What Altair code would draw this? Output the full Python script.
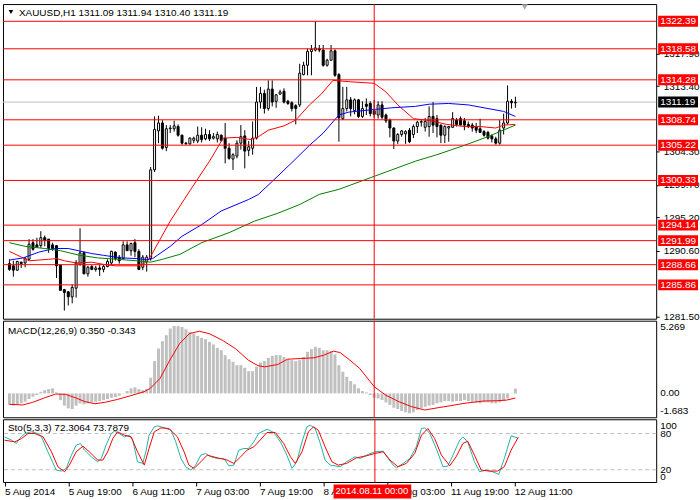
import json
import altair as alt
import pandas as pd

FONT = "Liberation Sans, Arial, sans-serif"
FS = 10

# ---------------- data ----------------
TITLE = "XAUUSD,H1  1311.09 1311.94 1310.40 1311.19"
MACD_TITLE = "MACD(12,26,9) 0.350 -0.343"
STO_TITLE = "Sto(5,3,3) 72.3064 73.7879"

OPEN = [1288.8, 1288.5, 1287.9, 1289.0, 1288.9, 1289.4, 1291.7, 1291.4, 1291.3, 1292.4,
        1292.2, 1291.4, 1291.3, 1288.6, 1285.2, 1284.9, 1284.2, 1285.4, 1288.7, 1290.3,
        1287.4, 1288.4, 1288.0, 1288.2, 1288.0, 1288.4, 1288.9, 1290.4, 1289.7, 1289.5,
        1291.4, 1290.6, 1291.7, 1290.5, 1288.3, 1289.1, 1289.5, 1301.8, 1307.2, 1308.3,
        1304.9, 1307.5, 1307.5, 1307.8, 1306.6, 1305.5, 1305.4, 1305.9, 1305.8, 1306.6,
        1306.1, 1306.7, 1306.2, 1306.1, 1306.6, 1306.2, 1304.8, 1303.3, 1303.7, 1305.5,
        1306.5, 1304.5, 1304.8, 1306.2, 1311.2, 1312.4, 1310.3, 1313.0, 1311.3, 1312.3,
        1312.7, 1311.3, 1311.1, 1310.7, 1310.8, 1315.0, 1316.3, 1318.2, 1318.4, 1318.6,
        1318.4, 1316.3, 1317.0, 1318.3, 1315.0, 1308.9, 1310.3, 1311.5, 1310.0, 1311.5,
        1309.2, 1310.9, 1311.0, 1310.0, 1309.4, 1310.8, 1309.4, 1308.7, 1307.6, 1305.8,
        1306.7, 1306.8, 1307.3, 1306.7, 1307.8, 1308.4, 1307.7, 1307.8, 1309.2, 1308.9,
        1308.0, 1306.6, 1307.6, 1307.7, 1308.7, 1308.9, 1308.6, 1308.1, 1308.0, 1307.8,
        1307.5, 1307.1, 1307.0, 1306.5, 1306.1, 1305.5, 1307.6, 1308.3, 1311.3, 1311.09]
HIGH = [1289.4, 1289.2, 1289.2, 1289.1, 1289.7, 1292.2, 1292.2, 1292.4, 1293.3, 1292.7,
        1292.2, 1291.7, 1291.4, 1288.6, 1285.3, 1285.0, 1285.9, 1289.3, 1293.7, 1290.5,
        1288.5, 1288.6, 1288.5, 1288.6, 1288.6, 1289.4, 1290.6, 1290.5, 1290.0, 1291.9,
        1291.9, 1291.7, 1292.2, 1290.8, 1290.0, 1290.0, 1302.2, 1309.2, 1309.3, 1308.7,
        1308.0, 1308.0, 1308.6, 1308.1, 1306.7, 1305.7, 1306.3, 1306.4, 1307.8, 1307.7,
        1307.5, 1307.3, 1306.9, 1307.1, 1306.7, 1308.3, 1305.5, 1304.1, 1305.9, 1308.0,
        1307.3, 1305.8, 1308.5, 1313.3, 1313.3, 1312.9, 1314.2, 1314.2, 1312.3, 1312.9,
        1313.1, 1311.5, 1311.3, 1310.9, 1316.5, 1316.8, 1318.6, 1319.1, 1322.4, 1319.1,
        1319.1, 1317.2, 1319.1, 1318.5, 1315.2, 1313.3, 1313.3, 1311.9, 1311.7, 1311.6,
        1311.3, 1311.7, 1311.3, 1311.5, 1311.3, 1311.3, 1309.6, 1308.9, 1307.7, 1306.9,
        1307.3, 1307.3, 1307.6, 1308.1, 1308.6, 1308.7, 1309.0, 1310.6, 1311.2, 1309.4,
        1308.1, 1308.0, 1307.8, 1309.8, 1309.0, 1309.2, 1309.0, 1308.5, 1308.3, 1308.3,
        1308.9, 1307.3, 1307.2, 1306.7, 1306.4, 1308.7, 1309.6, 1313.5, 1311.6, 1311.94]
LOW = [1287.8, 1287.0, 1287.8, 1288.2, 1288.3, 1289.3, 1290.6, 1291.0, 1291.0, 1291.2,
       1290.3, 1290.6, 1286.8, 1285.1, 1282.3, 1283.0, 1283.3, 1284.1, 1288.5, 1287.3,
       1287.0, 1287.9, 1287.7, 1287.1, 1287.6, 1288.3, 1288.6, 1289.2, 1288.8, 1289.4,
       1290.6, 1289.9, 1289.7, 1287.9, 1287.9, 1287.7, 1289.2, 1301.5, 1305.5, 1304.6,
       1304.4, 1306.9, 1307.1, 1306.4, 1305.3, 1305.3, 1305.3, 1305.5, 1305.5, 1305.6,
       1305.9, 1305.8, 1306.0, 1305.6, 1305.7, 1302.7, 1303.2, 1301.8, 1303.4, 1304.6,
       1302.0, 1303.7, 1303.9, 1306.0, 1310.3, 1309.6, 1310.0, 1310.6, 1310.4, 1312.2,
       1311.0, 1310.8, 1309.9, 1308.1, 1310.5, 1314.9, 1314.9, 1314.9, 1318.2, 1318.1,
       1316.1, 1316.1, 1316.9, 1314.7, 1305.7, 1308.7, 1309.9, 1309.2, 1309.5, 1309.0,
       1309.0, 1309.4, 1309.2, 1309.0, 1308.9, 1308.8, 1308.3, 1306.3, 1304.7, 1305.4,
       1306.4, 1305.4, 1305.5, 1306.2, 1306.9, 1307.8, 1307.1, 1306.4, 1306.9, 1306.3,
       1305.5, 1305.5, 1305.7, 1307.6, 1307.8, 1308.0, 1307.3, 1307.6, 1307.1, 1306.9,
       1306.9, 1306.4, 1306.0, 1305.6, 1305.3, 1305.3, 1306.7, 1308.1, 1310.3, 1310.40]
CLOSE = [1288.0, 1287.9, 1289.1, 1288.8, 1289.5, 1291.5, 1290.8, 1291.1, 1292.4, 1292.0,
         1290.9, 1290.9, 1288.5, 1285.1, 1284.8, 1284.2, 1285.5, 1288.9, 1290.3, 1287.4,
         1288.3, 1288.0, 1288.2, 1288.0, 1288.4, 1289.1, 1290.5, 1289.5, 1289.2, 1291.4,
         1290.6, 1291.6, 1290.5, 1288.0, 1289.7, 1289.7, 1301.8, 1307.4, 1308.3, 1304.8,
         1307.5, 1307.6, 1307.9, 1306.6, 1305.5, 1305.4, 1306.2, 1306.2, 1306.6, 1306.0,
         1306.7, 1306.1, 1306.4, 1306.7, 1305.9, 1304.8, 1303.4, 1303.9, 1305.5, 1306.4,
         1304.4, 1305.0, 1306.2, 1311.2, 1312.4, 1310.3, 1313.0, 1311.2, 1312.2, 1312.6,
         1311.2, 1311.0, 1310.3, 1310.3, 1315.2, 1316.3, 1318.2, 1318.5, 1318.7, 1318.4,
         1316.3, 1317.0, 1318.3, 1314.9, 1309.0, 1310.3, 1311.5, 1310.3, 1311.5, 1309.2,
         1310.3, 1310.6, 1309.6, 1309.5, 1310.8, 1309.1, 1308.6, 1307.6, 1305.8, 1306.7,
         1307.2, 1307.1, 1305.7, 1307.8, 1308.4, 1308.5, 1308.5, 1309.2, 1308.0, 1307.8,
         1306.6, 1307.8, 1307.8, 1308.9, 1308.1, 1308.0, 1308.0, 1307.8, 1307.6, 1307.3,
         1307.0, 1306.6, 1306.2, 1306.1, 1305.5, 1307.3, 1308.3, 1311.3, 1311.1, 1311.19]
IDX = list(range(len(OPEN)))

LEVELS = [1322.39, 1318.58, 1314.28, 1308.74, 1305.22, 1300.33, 1294.14, 1291.99, 1288.66, 1285.86]
LAST_PRICE = 1311.19
PRICE_TICKS = [1281.50, 1290.60, 1295.20, 1299.70, 1304.30, 1313.40, 1317.90]

MA_FAST = [(0, 1290.5), (5, 1289.2), (10, 1289.4), (12, 1289.5), (14, 1289.2), (17, 1288.9), (21, 1289.0),
           (24, 1288.7), (27, 1288.5), (33, 1288.5), (34.5, 1288.9), (35.5, 1289.4), (36.3, 1290.1),
           (41, 1294.7), (46, 1298.9), (51, 1303.0), (54.5, 1306.2), (58, 1306.3), (61.5, 1306.0),
           (63.5, 1306.4), (66, 1307.3), (70, 1307.9), (73, 1308.7), (76.5, 1310.8), (79.5, 1312.3),
           (82.5, 1314.2), (87, 1314.0), (93, 1313.8), (96, 1312.6), (99, 1310.8), (103, 1308.9),
           (107.5, 1308.6), (111.5, 1308.1), (116, 1307.8), (120, 1307.8), (124, 1307.6), (126, 1308.0),
           (129, 1308.1)]
MA_MID = [(0, 1289.3), (3.5, 1289.6), (7.5, 1290.4), (11.5, 1290.9), (15, 1290.9), (17.5, 1290.6),
          (21, 1290.2), (24, 1289.95), (28.5, 1289.6), (32.5, 1289.5), (35, 1289.35), (36.5, 1289.5),
          (41, 1291.2), (44, 1292.6), (49, 1294.2), (54, 1296.1), (61, 1297.7), (63.5, 1298.4),
          (67, 1300.2), (72, 1302.8), (76.5, 1305.2), (80, 1306.9), (84, 1309.4), (86.5, 1309.8),
          (93.5, 1310.2), (97.5, 1310.4), (103.5, 1310.6), (107, 1310.9), (112, 1311.0), (117, 1310.8),
          (122, 1310.3), (126, 1309.9), (129, 1309.2)]
MA_SLOW = [(0, 1291.7), (4, 1291.2), (9, 1290.9), (13, 1290.6), (17.5, 1290.0), (22.5, 1289.6),
           (27.5, 1289.4), (32.5, 1289.2), (36, 1289.0), (39, 1289.4), (43.5, 1290.1), (49, 1291.7),
           (56, 1293.1), (62.5, 1294.7), (68.5, 1295.8), (74, 1297.0), (79, 1298.4), (84, 1299.1),
           (87, 1299.7), (93, 1300.9), (103.5, 1303.0), (109, 1303.9), (116, 1305.2), (122, 1306.4),
           (125, 1307.1), (129, 1308.0)]

MACD_HIST = [-0.85, -0.90, -0.81, -0.73, -0.61, -0.41, -0.24, -0.12, 0.12, 0.24,
             0.32, 0.37, 0.07, -0.49, -0.90, -1.10, -1.15, -0.90, -0.73, -0.81,
             -0.73, -0.66, -0.61, -0.56, -0.49, -0.41, -0.32, -0.27, -0.17, 0.02,
             0.17, 0.37, 0.44, 0.32, 0.24, 0.32, 1.15, 2.37, 3.29, 3.83,
             4.27, 4.76, 4.95, 4.95, 4.88, 4.71, 4.51, 4.39, 4.22, 4.08,
             3.98, 3.78, 3.59, 3.34, 3.17, 2.81, 2.51, 2.32, 2.07, 2.07,
             1.88, 1.63, 1.63, 1.95, 2.27, 2.37, 2.61, 2.76, 2.81, 2.81,
             2.68, 2.51, 2.44, 2.37, 2.44, 2.68, 3.05, 3.25, 3.42, 3.34,
             3.17, 3.17, 3.10, 2.86, 2.07, 1.59, 1.22, 0.90, 0.66, 0.37,
             0.17, 0.07, -0.12, -0.32, -0.37, -0.49, -0.66, -0.85, -1.05, -1.15,
             -1.29, -1.39, -1.46, -1.39, -1.22, -1.10, -0.98, -0.90, -0.85, -0.73,
             -0.66, -0.56, -0.56, -0.61, -0.56, -0.56, -0.49, -0.56, -0.61, -0.66,
             -0.73, -0.66, -0.66, -0.73, -0.73, -0.66, -0.56, -0.37, -0.02, 0.35]
MACD_SIGNAL = [(0, -0.80), (3.4, -0.85), (5.9, -0.66), (9.3, -0.29), (11.8, -0.05), (14.3, -0.07),
               (16.8, -0.32), (19.3, -0.61), (21.8, -0.76), (24.3, -0.66), (27.6, -0.44), (30.9, -0.17),
               (34.3, 0.12), (35.9, 0.37), (38.4, 1.10), (40.9, 2.44), (43.4, 3.66), (45.9, 4.39),
               (48.4, 4.56), (50.9, 4.39), (54.3, 3.90), (57.6, 3.29), (60.9, 2.44), (63.4, 2.03),
               (65.1, 1.95), (68.4, 2.12), (70.9, 2.51), (74.3, 2.56), (77.6, 2.61), (80.1, 2.80),
               (82.6, 3.10), (84.3, 3.00), (86.8, 2.44), (89.3, 1.83), (93, 0.49), (95.9, -0.12),
               (99.3, -0.61), (102.6, -0.98), (105.9, -1.22), (109.3, -1.05), (112.6, -0.90),
               (115.9, -0.73), (120.9, -0.56), (124.3, -0.54), (126.8, -0.49), (129, -0.34)]
MACD_LABEL_VALUES = [5.269, 0.0, -1.683]
MACD_LABEL_TEXTS = ["5.269", "0.00", "-1.683"]

STO_K = [(0, 74.5), (1.8, 69), (3, 63.5), (3.8, 71.7), (5.1, 80), (6.8, 82.8), (8.4, 80), (9.3, 74.5),
         (10.9, 49.7), (13, 19.4), (14.3, 17.8), (15.5, 22.2), (16.8, 44.2), (18, 60.7), (19.1, 63.5),
         (20.1, 52.5), (21.8, 41.5), (23.4, 33.2), (24.3, 38.7), (25.5, 60.7), (26.8, 80), (27.6, 83.9),
         (28.8, 80), (30.1, 74.5), (31.3, 77.2), (32.2, 69), (33.4, 33.2), (34.7, 30.5), (35.5, 49.7),
         (36.3, 77.2), (37.6, 91), (38.4, 92.7), (40.1, 89.4), (41.8, 85.5), (43, 66.2), (44.3, 38.7),
         (45.5, 25), (46.8, 19.4), (48, 27.7), (49.3, 44.2), (50.5, 47), (51.8, 41.5), (53.4, 38.7),
         (55.1, 38.7), (56.3, 26.6), (57.6, 27.7), (58.8, 52.5), (60.1, 55.2), (61.3, 55.2),
         (62.6, 66.2), (63.8, 80), (65.9, 87.2), (67.6, 81.7), (69.3, 66.2), (70.9, 44.2), (72.2, 22.2),
         (73.4, 33.2), (74.7, 66.2), (75.9, 91), (76.8, 93.8), (78, 88.3), (79.3, 63.5), (80.5, 36),
         (81.8, 27.7), (84.3, 25), (85.9, 33.2), (88, 41.5), (89.3, 38.7), (90.9, 44.2), (93, 49.7),
         (95.1, 50.8), (96.3, 38.7), (97.6, 27.7), (98.4, 23.3), (100.1, 30.5), (101.8, 38.7),
         (103.4, 58), (104.7, 88.3), (105.5, 89.4), (106.8, 80), (108.4, 55.2), (110.1, 25), (111.3, 26),
         (112.6, 44.2), (114.3, 69), (115.1, 74.5), (116.3, 66.2), (118, 33.2), (119.3, 16.7),
         (120.9, 19.4), (122.6, 16.7), (124.1, 12.3), (125.5, 38.7), (127.2, 76.1), (129, 72.3)]
STO_D = [(0, 69), (2.6, 66.2), (4.3, 71.7), (5.9, 80), (7.6, 80), (9.7, 74.5), (11.8, 49.7), (13.4, 25),
         (15.1, 16.7), (16.3, 27.7), (18, 49.7), (19.7, 59.1), (21.3, 49.7), (23.4, 36), (24.7, 36),
         (25.9, 49.7), (27.2, 71.7), (28.4, 82.8), (30.1, 77.2), (31.8, 74.5), (33.4, 49.7), (35.1, 27.7),
         (36.3, 55.2), (37.6, 82.8), (39.3, 89.4), (41.3, 88.3), (43.4, 74.5), (45.1, 49.7), (46.3, 27.7),
         (47.6, 22.2), (49.3, 33.2), (50.9, 44.2), (53.4, 39.8), (55.9, 36), (57.6, 30.5), (59.3, 41.5),
         (60.9, 52.5), (62.6, 58), (63.8, 66.2), (65.9, 81.7), (68, 81.7), (70.1, 63.5), (71.8, 41.5),
         (73, 30.5), (74.7, 49.7), (76.3, 82.8), (77.6, 91), (78.8, 85.5), (80.5, 58), (82.2, 33.2),
         (83.8, 27.7), (85.9, 30.5), (88.4, 39.8), (90.9, 43.1), (93, 47), (95.1, 49.7), (96.8, 36),
         (98.8, 25), (100.9, 30.5), (103, 47), (104.7, 77.2), (106.3, 88.3), (108, 71.7), (109.7, 44.2),
         (111.8, 26.6), (113.4, 41.5), (115.1, 63.5), (116.3, 67.3), (118, 44.2), (119.7, 19.4),
         (121.8, 17.8), (123.8, 17.8), (125.5, 25), (127.2, 52.5), (129, 73.8)]
STO_LEVELS = [80, 20]
STO_LABELS = [100, 80, 20, 0]

TIME_TICK_I = [0, 16, 32, 48, 64, 80, 96, 112, 128]
TIME_TICK_LABELS = ["5 Aug 2014", "5 Aug 19:00", "6 Aug 11:00", "7 Aug 03:00", "7 Aug 19:00",
                    "8 Aug 11:00", "11 Aug 03:00", "11 Aug 19:00", "12 Aug 11:00"]
CROSS_I = 93
CROSS_LABEL = "2014.08.11 00:00"

# ---------------- layout ----------------
W = 656
MAIN_H, MACD_H, STO_H = 316, 97, 63
X_DOMAIN = [-0.375, 163.625]
MAIN_DOMAIN = [1281.17, 1324.78]
MACD_DOMAIN = [-1.754, 5.336]
STO_DOMAIN = [-0.3, 103.6]
RED, BLUE, GREEN, TEAL, GRAY = "#ff0000", "#0000ff", "#008000", "#20b2aa", "#c0c0c0"


def xenc(field="i", axis=None):
    return alt.X(f"{field}:Q", scale=alt.Scale(domain=X_DOMAIN, nice=False, zero=False), axis=axis)


def yenc(field, dom, axis=None):
    return alt.Y(f"{field}:Q", scale=alt.Scale(domain=dom, nice=False, zero=False), axis=axis)


def txt(align="left", baseline="middle", color="black", size=FS):
    return dict(align=align, baseline=baseline, color=color, font=FONT, fontSize=size)


cdf = pd.DataFrame({"i": IDX, "o": OPEN, "h": HIGH, "l": LOW, "c": CLOSE})
lev_df = pd.DataFrame({"v": LEVELS})
last_df = pd.DataFrame({"v": [LAST_PRICE]})
ma_rows = []
for name, pts in (("fast", MA_FAST), ("mid", MA_MID), ("slow", MA_SLOW)):
    for i, v in pts:
        ma_rows.append({"s": name, "i": i, "v": v})
ma_df = pd.DataFrame(ma_rows)
cross_df = pd.DataFrame({"i": [CROSS_I]})
dummy = pd.DataFrame({"a": [0]})

PA = alt.Axis(orient="right", values=PRICE_TICKS, format=".2f", tickSize=3, tickColor="black",
              labelPadding=4, labelColor="black", labelFont=FONT, labelFontSize=FS,
              domain=False, grid=False, title=None, labelOverlap=False)


def ym(field):
    return yenc(field, MAIN_DOMAIN, PA)


main = alt.layer(
    alt.Chart(last_df).mark_rule(color=GRAY).encode(y=ym("v")),
    alt.Chart(cdf).mark_rule(color="black").encode(x=xenc(), y=ym("l"), y2="h:Q"),
    alt.Chart(cdf).mark_bar(width=2, stroke="black", strokeWidth=1).encode(
        x=xenc(), y=ym("o"), y2="c:Q",
        fill=alt.condition("datum.c >= datum.o", alt.value("white"), alt.value("black"))),
    alt.Chart(ma_df).mark_line(strokeWidth=1).encode(
        x=xenc(), y=ym("v"),
        color=alt.Color("s:N", scale=alt.Scale(domain=["fast", "mid", "slow"], range=[RED, BLUE, GREEN]),
                        legend=None)),
    alt.Chart(lev_df).mark_rule(color=RED).encode(y=ym("v")),
    alt.Chart(cross_df).mark_rule(color=RED).encode(x=xenc()),
    alt.Chart(lev_df).transform_calculate(lo="datum.v - 0.76", hi="datum.v + 0.76").mark_rect(color=RED).encode(
        x=alt.value(658), x2=alt.value(698), y=ym("lo"), y2="hi:Q"),
    alt.Chart(lev_df).mark_text(**txt(color="white")).encode(
        x=alt.value(660), y=ym("v"), text=alt.Text("v:Q", format=".2f")),
    alt.Chart(last_df).transform_calculate(lo="datum.v - 0.76", hi="datum.v + 0.76").mark_rect(color="black").encode(
        x=alt.value(658), x2=alt.value(698), y=ym("lo"), y2="hi:Q"),
    alt.Chart(last_df).mark_text(**txt(color="white")).encode(
        x=alt.value(660), y=ym("v"), text=alt.Text("v:Q", format=".2f")),
    alt.Chart(dummy).mark_point(shape="triangle-down", filled=True, color="black", size=22, opacity=1).encode(
        x=alt.value(8), y=alt.value(8)),
    alt.Chart(dummy).mark_point(shape="triangle-down", filled=True, color="#a8a8a8", size=40, opacity=1).encode(
        x=alt.value(524), y=alt.value(3)),
    alt.Chart(pd.DataFrame({"t": [TITLE]})).mark_text(**txt()).encode(
        x=alt.value(16), y=alt.value(9), text="t:N"),
).properties(width=W, height=MAIN_H)

# MACD panel
hist_df = pd.DataFrame({"i": IDX, "m": MACD_HIST})
sig_df = pd.DataFrame(MACD_SIGNAL, columns=["i", "v"])
macd_layers = [
    alt.Chart(hist_df).mark_bar(width=3, color=GRAY).encode(x=xenc(), y=yenc("m", MACD_DOMAIN), y2=alt.datum(0)),
    alt.Chart(sig_df).mark_line(color=RED, strokeWidth=1).encode(x=xenc(), y=yenc("v", MACD_DOMAIN)),
    alt.Chart(cross_df).mark_rule(color=RED).encode(x=xenc()),
    alt.Chart(pd.DataFrame({"t": [MACD_TITLE]})).mark_text(**txt()).encode(
        x=alt.value(5), y=alt.value(10), text="t:N"),
]
for val, label, base in zip(MACD_LABEL_VALUES, MACD_LABEL_TEXTS, ["top", "middle", "bottom"]):
    macd_layers.append(
        alt.Chart(pd.DataFrame({"v": [val], "t": [label]})).mark_text(**txt(baseline=base)).encode(
            x=alt.value(660), y=yenc("v", MACD_DOMAIN), text="t:N"))
macd = alt.layer(*macd_layers).properties(width=W, height=MACD_H)

# Stochastic panel
k_df = pd.DataFrame(STO_K, columns=["i", "v"])
d_df = pd.DataFrame(STO_D, columns=["i", "v"])
label_expr = "{}[indexof({}, datum.value)]".format(json.dumps(TIME_TICK_LABELS), json.dumps(TIME_TICK_I))
TA = alt.Axis(orient="bottom", values=TIME_TICK_I, labelExpr=label_expr, tickSize=4, tickColor="black",
              labelAlign="left", labelPadding=1, labelColor="black", labelFont=FONT, labelFontSize=FS,
              domain=False, grid=False, title=None, labelOverlap=False, labelBound=False,
              labelFlush=False)
sto_layers = [
    alt.Chart(pd.DataFrame({"v": STO_LEVELS})).mark_rule(color=GRAY, strokeDash=[4, 3]).encode(
        y=yenc("v", STO_DOMAIN)),
    alt.Chart(k_df).mark_line(color=TEAL, strokeWidth=1).encode(x=xenc(axis=TA), y=yenc("v", STO_DOMAIN)),
    alt.Chart(d_df).mark_line(color=RED, strokeWidth=1).encode(x=xenc(axis=TA), y=yenc("v", STO_DOMAIN)),
    alt.Chart(cross_df).mark_rule(color=RED).encode(x=xenc(axis=TA)),
    alt.Chart(pd.DataFrame({"t": [STO_TITLE]})).mark_text(**txt()).encode(
        x=alt.value(5), y=alt.value(9), text="t:N"),
    alt.Chart(dummy).mark_rect(color=RED).encode(
        x=alt.value(332), x2=alt.value(410), y=alt.value(65.5), y2=alt.value(79.5)),
    alt.Chart(pd.DataFrame({"t": [CROSS_LABEL]})).mark_text(**txt(color="white", size=9.5)).encode(
        x=alt.value(334), y=alt.value(72.5), text="t:N"),
]
for val, base in zip(STO_LABELS, ["top", "middle", "middle", "bottom"]):
    sto_layers.append(
        alt.Chart(pd.DataFrame({"v": [val]})).mark_text(**txt(baseline=base)).encode(
            x=alt.value(660), y=yenc("v", STO_DOMAIN), text=alt.Text("v:Q", format="d")))
sto = alt.layer(*sto_layers).properties(width=W, height=STO_H)

chart = alt.vconcat(main, macd, sto, spacing=2, bounds="flush").properties(
    padding={"left": 2, "top": 2, "right": 0, "bottom": 0},
    background="white",
).configure_view(stroke="black", strokeWidth=1)

chart.save("out.html", embed_options={"renderer": "svg", "actions": False})
